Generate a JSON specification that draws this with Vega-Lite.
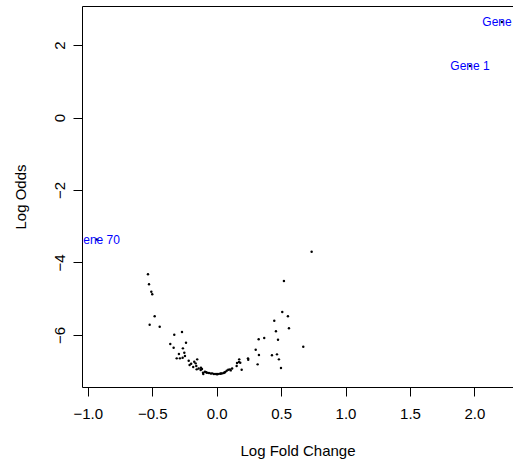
{
  "$schema": "https://vega.github.io/schema/vega-lite/v6.json",
  "width": 431,
  "height": 381,
  "autosize": {"type": "none"},
  "padding": {"left": 82, "top": 6, "right": 0, "bottom": 75},
  "background": "white",
  "config": {
    "view": {"stroke": null},
    "font": "Liberation Sans",
    "axis": {"grid": false, "domainColor": "black", "tickColor": "black", "labelColor": "black", "titleColor": "black", "labelFont": "Liberation Sans", "titleFont": "Liberation Sans", "labelFontSize": 15, "titleFontSize": 15, "titleFontWeight": "normal", "tickSize": 9, "domainWidth": 1, "tickWidth": 1}
  },
  "data": {
    "values": [
      {"lfc": -0.533, "lod": -4.329},
      {"lfc": -0.525, "lod": -4.605},
      {"lfc": -0.507, "lod": -4.809},
      {"lfc": -0.500, "lod": -4.881},
      {"lfc": -0.481, "lod": -5.489},
      {"lfc": -0.520, "lod": -5.721},
      {"lfc": -0.442, "lod": -5.776},
      {"lfc": -0.329, "lod": -5.997},
      {"lfc": -0.269, "lod": -5.923},
      {"lfc": -0.360, "lod": -6.254},
      {"lfc": -0.334, "lod": -6.356},
      {"lfc": -0.238, "lod": -6.218},
      {"lfc": -0.262, "lod": -6.373},
      {"lfc": -0.293, "lod": -6.530},
      {"lfc": -0.251, "lod": -6.494},
      {"lfc": -0.310, "lod": -6.649},
      {"lfc": -0.285, "lod": -6.649},
      {"lfc": -0.264, "lod": -6.633},
      {"lfc": -0.246, "lod": -6.586},
      {"lfc": -0.217, "lod": -6.715},
      {"lfc": -0.210, "lod": -6.834},
      {"lfc": -0.174, "lod": -6.743},
      {"lfc": -0.151, "lod": -6.677},
      {"lfc": -0.163, "lod": -6.787},
      {"lfc": -0.182, "lod": -6.890},
      {"lfc": -0.158, "lod": -6.862},
      {"lfc": -0.122, "lod": -6.909},
      {"lfc": -0.114, "lod": -6.945},
      {"lfc": -0.124, "lod": -6.972},
      {"lfc": -0.155, "lod": -6.953},
      {"lfc": -0.106, "lod": -7.047},
      {"lfc": -0.091, "lod": -7.019},
      {"lfc": -0.075, "lod": -7.047},
      {"lfc": -0.060, "lod": -7.055},
      {"lfc": -0.104, "lod": -7.083},
      {"lfc": -0.034, "lod": -7.064},
      {"lfc": -0.021, "lod": -7.083},
      {"lfc": -0.005, "lod": -7.083},
      {"lfc": 0.010, "lod": -7.083},
      {"lfc": 0.026, "lod": -7.075},
      {"lfc": 0.041, "lod": -7.064},
      {"lfc": 0.054, "lod": -7.055},
      {"lfc": 0.067, "lod": -7.028},
      {"lfc": 0.078, "lod": -6.992},
      {"lfc": 0.090, "lod": -6.964},
      {"lfc": 0.103, "lod": -6.953},
      {"lfc": 0.109, "lod": -6.981},
      {"lfc": 0.155, "lod": -6.862},
      {"lfc": 0.158, "lod": -6.779},
      {"lfc": 0.173, "lod": -6.751},
      {"lfc": 0.183, "lod": -6.771},
      {"lfc": 0.175, "lod": -6.677},
      {"lfc": 0.194, "lod": -6.964},
      {"lfc": 0.243, "lod": -6.649},
      {"lfc": 0.245, "lod": -6.688},
      {"lfc": 0.303, "lod": -6.412},
      {"lfc": 0.328, "lod": -6.558},
      {"lfc": 0.318, "lod": -6.815},
      {"lfc": 0.326, "lod": -6.124},
      {"lfc": 0.369, "lod": -6.088},
      {"lfc": 0.429, "lod": -6.566},
      {"lfc": 0.468, "lod": -6.539},
      {"lfc": 0.483, "lod": -6.677},
      {"lfc": 0.499, "lod": -6.917},
      {"lfc": 0.447, "lod": -5.610},
      {"lfc": 0.460, "lod": -5.903},
      {"lfc": 0.476, "lod": -6.135},
      {"lfc": 0.509, "lod": -5.370},
      {"lfc": 0.553, "lod": -5.489},
      {"lfc": 0.561, "lod": -5.820},
      {"lfc": 0.522, "lod": -4.514},
      {"lfc": 0.737, "lod": -3.704},
      {"lfc": 0.672, "lod": -6.329},
      {"lfc": -0.140, "lod": -6.930},
      {"lfc": -0.082, "lod": -7.030},
      {"lfc": -0.045, "lod": -7.070},
      {"lfc": 0.003, "lod": -7.090},
      {"lfc": 0.033, "lod": -7.070},
      {"lfc": 0.061, "lod": -7.040},
      {"lfc": 0.120, "lod": -6.930},
      {"lfc": -0.198, "lod": -6.800},
      {"lfc": 1.966, "lod": 1.425, "gene": "Gene 1"},
      {"lfc": 2.214, "lod": 2.640, "gene": "Gene 2"},
      {"lfc": -0.929, "lod": -3.370, "gene": "Gene 70"}
    ]
  },
  "layer": [
    {
      "mark": {"type": "point", "shape": "circle", "filled": true, "color": "black", "opacity": 1, "size": 6},
      "encoding": {
        "x": {"field": "lfc", "type": "quantitative", "scale": {"domain": [-1.045, 2.2995], "nice": false, "zero": false},
          "axis": {"orient": "bottom", "title": "Log Fold Change", "values": [-1, -0.5, 0, 0.5, 1, 1.5, 2], "format": ".1f", "labelBaseline": "alphabetic", "labelPadding": 22, "labelFlush": false, "titleBaseline": "alphabetic", "titleY": 68, "titleAnchor": "middle"}},
        "y": {"field": "lod", "type": "quantitative", "scale": {"domain": [-7.44, 3.08], "nice": false, "zero": false},
          "axis": {"orient": "left", "title": "Log Odds", "values": [-6, -4, -2, 0, 2], "format": "d", "labelAngle": 270, "labelAlign": "center", "labelBaseline": "alphabetic", "labelPadding": 9, "labelFlush": false, "titleAngle": 270, "titleBaseline": "alphabetic", "titleAlign": "center", "titleX": -57, "titleY": 190.5}}
      }
    },
    {
      "transform": [{"filter": "isValid(datum.gene)"}],
      "mark": {"type": "text", "color": "#0000FF", "fontSize": 12, "font": "Liberation Sans", "align": "center", "baseline": "middle", "clip": true},
      "encoding": {
        "x": {"field": "lfc", "type": "quantitative", "axis": {"orient": "top", "labels": false, "ticks": false, "title": null, "domain": true}},
        "y": {"field": "lod", "type": "quantitative"},
        "text": {"field": "gene"}
      }
    }
  ],
  "resolve": {"axis": {"x": "independent"}}
}
